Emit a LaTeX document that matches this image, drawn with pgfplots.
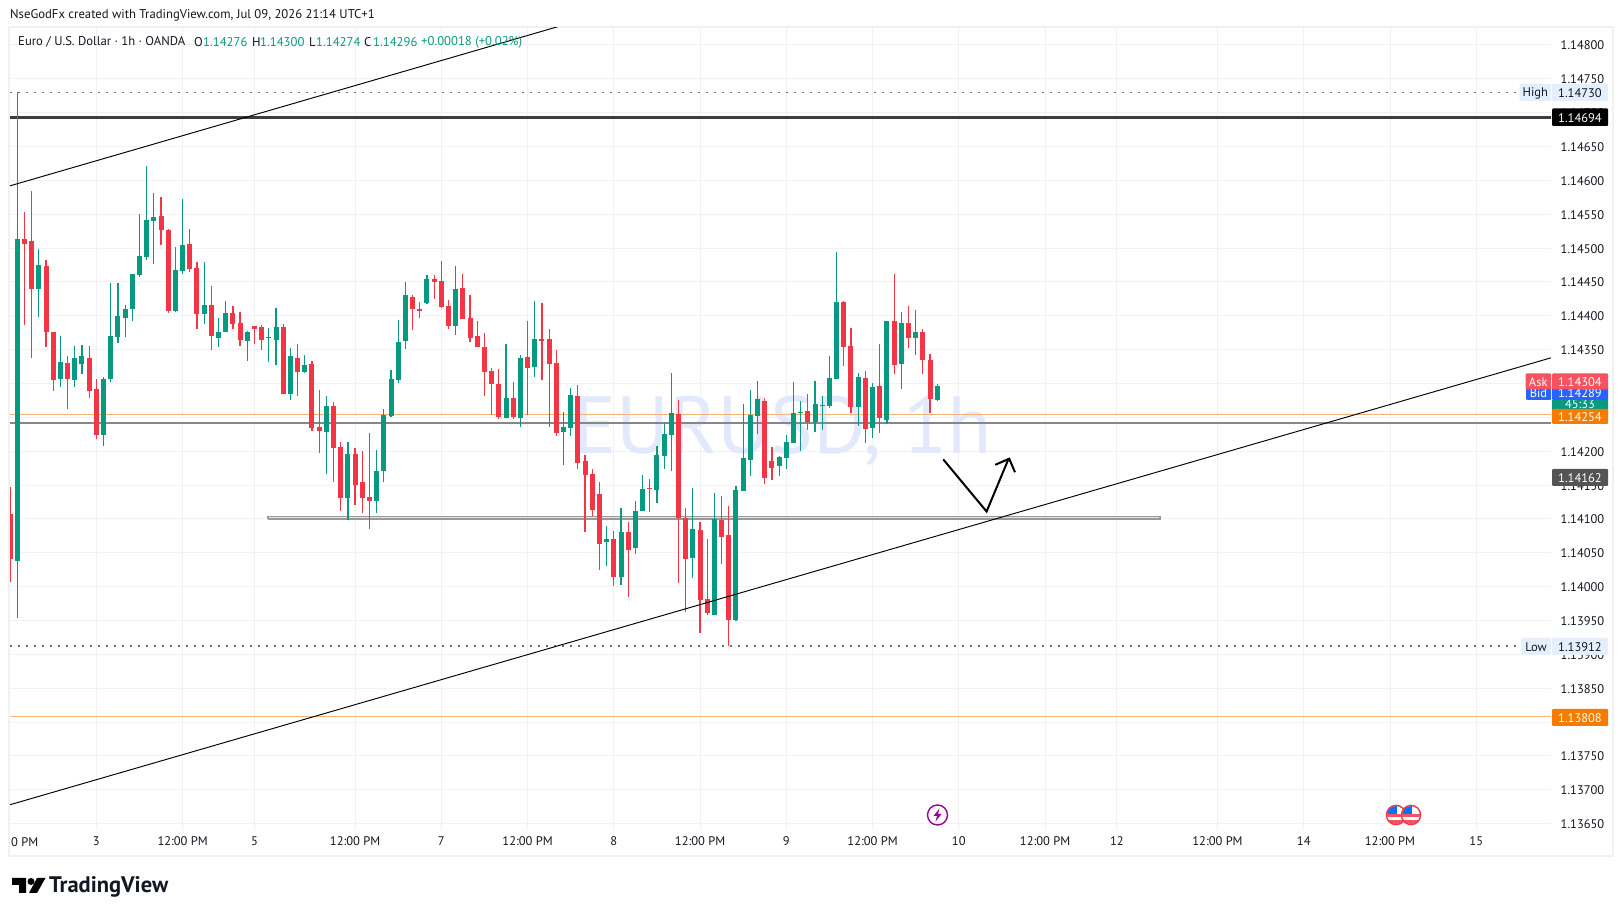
\documentclass[border=0pt]{standalone}
\usepackage{pgfplots}
\usepackage{pgfplotstable}
\usepackage{fontspec}
\pgfplotsset{compat=1.18}
\setmainfont{PT Sans}
\definecolor{up}{HTML}{089981}
\definecolor{down}{HTML}{F23645}
\definecolor{gridc}{HTML}{F1F2F4}
\definecolor{framec}{HTML}{F0F1F3}
\definecolor{txt}{HTML}{131722}
\definecolor{hl}{HTML}{E3EFFD}
\definecolor{orangeb}{HTML}{F57C00}
\definecolor{orangel}{HTML}{F4B478}
\definecolor{askc}{HTML}{F7525F}
\definecolor{bidc}{HTML}{2962FF}
\definecolor{wm}{HTML}{E3E9FC}
\pgfplotstableread{
x low bot top high
0 1.13954 1.14038 1.14514 1.14730
3 1.14398 1.14439 1.14475 1.14499
6 1.14295 1.14307 1.14332 1.14370
8 1.14295 1.14305 1.14338 1.14355
9 1.14314 1.14329 1.14341 1.14357
12 1.14208 1.14224 1.14307 1.14310
13 1.14302 1.14307 1.14370 1.14449
14 1.14360 1.14369 1.14400 1.14449
15 1.14369 1.14397 1.14410 1.14416
16 1.14392 1.14410 1.14462 1.14462
17 1.14457 1.14460 1.14488 1.14550
18 1.14482 1.14487 1.14542 1.14621
19 1.14477 1.14540 1.14546 1.14581
22 1.14406 1.14407 1.14468 1.14502
23 1.14462 1.14466 1.14505 1.14573
26 1.14388 1.14403 1.14416 1.14480
28 1.14354 1.14367 1.14376 1.14397
29 1.14376 1.14376 1.14404 1.14422
32 1.14333 1.14363 1.14376 1.14378
35 1.14332 1.14367 1.14369 1.14382
36 1.14327 1.14364 1.14384 1.14412
38 1.14276 1.14285 1.14341 1.14353
40 1.14316 1.14317 1.14327 1.14342
43 1.14166 1.14228 1.14267 1.14282
46 1.14099 1.14131 1.14196 1.14214
50 1.14109 1.14127 1.14171 1.14202
51 1.14155 1.14171 1.14254 1.14262
52 1.14251 1.14252 1.14307 1.14320
53 1.14301 1.14305 1.14361 1.14394
54 1.14351 1.14363 1.14431 1.14450
57 1.14418 1.14419 1.14454 1.14460
61 1.14372 1.14385 1.14440 1.14474
68 1.14249 1.14249 1.14279 1.14358
70 1.14236 1.14249 1.14338 1.14342
72 1.14310 1.14324 1.14366 1.14422
76 1.14180 1.14228 1.14236 1.14258
77 1.14223 1.14234 1.14283 1.14293
82 1.14031 1.14066 1.14070 1.14090
84 1.14003 1.14014 1.14081 1.14116
86 1.14048 1.14057 1.14112 1.14127
87 1.14112 1.14112 1.14144 1.14165
89 1.14124 1.14143 1.14195 1.14208
90 1.14174 1.14193 1.14226 1.14242
91 1.14171 1.14224 1.14257 1.14316
94 1.14013 1.14042 1.14085 1.14146
97 1.13958 1.13958 1.14100 1.14138
100 1.13949 1.13951 1.14143 1.14149
101 1.14141 1.14141 1.14190 1.14270
102 1.14164 1.14187 1.14254 1.14291
103 1.14226 1.14252 1.14277 1.14304
106 1.14164 1.14178 1.14192 1.14193
107 1.14174 1.14190 1.14214 1.14224
108 1.14212 1.14212 1.14257 1.14302
109 1.14200 1.14257 1.14258 1.14274
111 1.14228 1.14243 1.14270 1.14304
112 1.14231 1.14267 1.14268 1.14282
113 1.14264 1.14267 1.14308 1.14341
114 1.14307 1.14307 1.14420 1.14494
117 1.14237 1.14265 1.14310 1.14316
119 1.14220 1.14234 1.14295 1.14301
121 1.14240 1.14246 1.14392 1.14392
123 1.14292 1.14329 1.14389 1.14406
125 1.14342 1.14367 1.14376 1.14409
128 1.14274 1.14276 1.14296 1.14300
}\upcandles
\pgfplotstableread{
x low bot top high
-1 1.14007 1.14041 1.14107 1.14147
1 1.14386 1.14506 1.14513 1.14553
2 1.14338 1.14439 1.14511 1.14584
4 1.14354 1.14376 1.14474 1.14482
5 1.14289 1.14305 1.14376 1.14376
7 1.14262 1.14307 1.14330 1.14341
10 1.14279 1.14289 1.14338 1.14355
11 1.14218 1.14224 1.14292 1.14307
20 1.14505 1.14527 1.14547 1.14576
21 1.14404 1.14407 1.14527 1.14528
24 1.14465 1.14469 1.14506 1.14528
25 1.14381 1.14403 1.14471 1.14480
27 1.14350 1.14370 1.14416 1.14444
30 1.14381 1.14388 1.14404 1.14415
31 1.14355 1.14364 1.14389 1.14406
33 1.14358 1.14381 1.14385 1.14385
34 1.14350 1.14364 1.14384 1.14386
37 1.14285 1.14285 1.14384 1.14388
39 1.14282 1.14317 1.14338 1.14358
41 1.14230 1.14234 1.14329 1.14333
42 1.14197 1.14230 1.14236 1.14290
44 1.14155 1.14205 1.14267 1.14273
45 1.14112 1.14131 1.14206 1.14214
47 1.14121 1.14150 1.14196 1.14205
48 1.14109 1.14131 1.14155 1.14200
49 1.14085 1.14127 1.14132 1.14227
55 1.14379 1.14410 1.14428 1.14431
56 1.14397 1.14407 1.14410 1.14420
58 1.14425 1.14450 1.14454 1.14460
59 1.14412 1.14413 1.14451 1.14481
60 1.14381 1.14385 1.14415 1.14423
62 1.14395 1.14395 1.14441 1.14462
63 1.14361 1.14367 1.14397 1.14431
64 1.14354 1.14354 1.14370 1.14392
65 1.14282 1.14317 1.14354 1.14375
66 1.14254 1.14299 1.14319 1.14323
67 1.14248 1.14251 1.14299 1.14322
69 1.14248 1.14251 1.14279 1.14302
71 1.14254 1.14323 1.14339 1.14392
73 1.14305 1.14363 1.14366 1.14419
74 1.14236 1.14329 1.14366 1.14381
75 1.14223 1.14227 1.14330 1.14350
78 1.14174 1.14183 1.14282 1.14298
79 1.14081 1.14165 1.14186 1.14195
80 1.14104 1.14113 1.14166 1.14174
81 1.14025 1.14063 1.14137 1.14155
83 1.14001 1.14014 1.14070 1.14082
85 1.13985 1.14054 1.14081 1.14096
88 1.14110 1.14144 1.14146 1.14159
92 1.14005 1.14101 1.14255 1.14276
93 1.13963 1.14041 1.14101 1.14116
95 1.13932 1.13980 1.14084 1.14096
96 1.13958 1.13961 1.13982 1.14070
98 1.14034 1.14073 1.14099 1.14134
99 1.13912 1.13951 1.14076 1.14119
104 1.14152 1.14161 1.14274 1.14279
105 1.14158 1.14175 1.14186 1.14206
110 1.14231 1.14243 1.14260 1.14285
115 1.14326 1.14354 1.14420 1.14422
116 1.14257 1.14265 1.14355 1.14382
118 1.14212 1.14233 1.14308 1.14319
120 1.14227 1.14249 1.14296 1.14358
122 1.14314 1.14327 1.14392 1.14462
124 1.14353 1.14367 1.14389 1.14415
126 1.14314 1.14335 1.14376 1.14381
127 1.14257 1.14277 1.14335 1.14344
}\downcandles
\pgfplotsset{
 candle/.style n args={3}{draw=none,mark=none,forget plot,
  error bars/.cd,y dir=plus,y explicit,error mark=none,
  error bar style={draw=#1,line width=#2}},
}
\newcommand{\candles}[2]{%
 \addplot[candle={#2}{1.2pt}{}] table[x=x,y=low,y error plus expr=\thisrow{high}-\thisrow{low}]{#1};
 \addplot[candle={#2}{5pt}{}] table[x=x,y=bot,y error plus expr=\thisrow{top}-\thisrow{bot}]{#1};
}
\newcommand{\pricebox}[6]{% x0 x1 ytop ybot fill text
 \fill[#5,rounded corners=1pt] (#1,#3) rectangle (#2,#4);
 \node[anchor=center,inner sep=0,text=white,font=\fontsize{12.5}{14}\selectfont] at ({(#1+#2)/2},{(#3+#4)/2+0.5}) {#6};
}
\newcommand{\lightbox}[5]{%
 \fill[hl,rounded corners=1pt] (#1,#3) rectangle (#2,#4);
 \node[anchor=center,inner sep=0,text=txt,font=\fontsize{12.5}{14}\selectfont] at ({(#1+#2)/2},{(#3+#4)/2+0.5}) {#5};
}
\begin{document}
\begin{tikzpicture}[x=1pt,y=1pt]
\useasboundingbox (0,0) rectangle (1623,916);
\fill[white] (0,0) rectangle (1623,916);
\draw[framec,line width=2pt] (9,916-27) rectangle (1613,916-856);
\begin{axis}[
 at={(10pt,86pt)},anchor=south west,scale only axis,
 width=1541pt,height=802pt,
 xmin=-1.016,xmax=213.4,ymin=1.136407,ymax=1.148251,
 clip mode=individual,
 axis line style={draw=none},
 major tick length=0pt,
 grid=major,grid style={draw=gridc,line width=1pt},
 xtick={11,23,33,47,59,71,83,95,107,119,131,143,153,167,179,191,203},
 xticklabels={3,12:00 PM,5,12:00 PM,7,12:00 PM,8,12:00 PM,9,12:00 PM,10,12:00 PM,12,12:00 PM,14,12:00 PM,15},
 ytick={1.1365,1.137,1.1375,1.138,1.1385,1.139,1.1395,1.14,1.1405,1.141,1.1415,1.142,1.1425,1.143,1.1435,1.144,1.1445,1.145,1.1455,1.146,1.1465,1.147,1.1475,1.148},
 yticklabel pos=right,
 yticklabel style={/pgf/number format/.cd,fixed,fixed zerofill,precision=5,1000 sep={},assume math mode=true,/tikz/.cd,anchor=west,inner sep=0pt,xshift=9.5pt,yshift=-0.6pt,text=txt,font=\fontsize{12.5}{14}\selectfont},
 xticklabel style={anchor=center,inner sep=0pt,yshift=-11.5pt,text=txt,font=\fontsize{12.5}{14}\selectfont},
]
\node[anchor=base west,inner sep=0,text=wm,font=\fontsize{81}{90}\selectfont] at (axis cs:77.3,1.14197) {EURUSD, 1h};
% horizontal levels
\addplot[draw=orangel,line width=0.8pt,forget plot] coordinates {(-1.016,1.14254)(213.4,1.14254)};
\addplot[draw=orangel,line width=0.8pt,forget plot] coordinates {(-1.016,1.13808)(213.4,1.13808)};
\addplot[draw=black!47,line width=2pt,forget plot] coordinates {(-1.016,1.14242)(213.4,1.14242)};
\addplot[draw=black!76,line width=3pt,forget plot] coordinates {(-1.016,1.14693)(213.4,1.14693)};
\addplot[draw=black!58,line width=1.6pt,dash pattern=on 1.6pt off 6.4pt,forget plot] coordinates {(-1.016,1.14730)(213.4,1.14730)};
\addplot[draw=black!58,line width=1.6pt,dash pattern=on 1.6pt off 6.4pt,forget plot] coordinates {(-1.016,1.13912)(213.4,1.13912)};
\addplot[draw=black!40,line width=1.3pt,fill=black!10,forget plot] coordinates {(34.9,1.14100)(159,1.14100)(159,1.14104)(34.9,1.14104)(34.9,1.14100)};
\candles{\downcandles}{down}
\candles{\upcandles}{up}
% trend lines
\addplot[draw=black,line width=0.95pt,forget plot] coordinates {(-1.016,1.14592)(75.2,1.14827)};
\addplot[draw=black,line width=0.95pt,forget plot] coordinates {(-1.016,1.13678)(213.4,1.14338)};
% drawn arrow
\addplot[draw=black,line width=2pt,forget plot] coordinates {(128.84,1.14188)(134.87,1.14111)(137.93,1.14189)};
\addplot[draw=black,line width=2pt,forget plot] coordinates {(136.07,1.14180)(138.02,1.14189)(138.82,1.14169)};
\end{axis}
\begin{scope}[shift={(0,916)},y=-1pt]
% header
\node[anchor=west,inner sep=0,text=txt,font=\fontsize{12.7}{15}\selectfont] at (10,15) {NseGodFx created with TradingView.com, Jul 09, 2026 21:14 UTC+1};
\node[anchor=west,inner sep=0,text=txt,font=\fontsize{12.7}{15}\selectfont] at (18,42) {Euro / U.S. Dollar · 1h · OANDA};
\foreach \xx/\t in {194/O,252/H,309/L,364/C}{\node[anchor=west,inner sep=0,text=txt,font=\fontsize{12.7}{15}\selectfont] at (\xx,42) {\t};}
\foreach \xx/\t in {203/1.14276,260/1.14300,316/1.14274,373/1.14296,421/{+0.00018 (+0.02\%)}}{\node[anchor=west,inner sep=0,text=up,font=\fontsize{12.7}{15}\selectfont] at (\xx,42) {\t};}
% partly hidden time label
\node[anchor=west,inner sep=0,text=txt,font=\fontsize{12.5}{14}\selectfont] at (11,842) {0 PM};
% price boxes
\lightbox{1519.5}{1551}{84}{101}{High}
\lightbox{1552}{1608}{84}{101}{1.14730}
\pricebox{1552}{1608}{108.5}{126}{black}{1.14694}
\pricebox{1552}{1608}{399}{412}{up}{\raisebox{3pt}{45:33}}
\pricebox{1526}{1551}{385}{400}{bidc}{Bid}
\pricebox{1552}{1608}{385}{400}{bidc}{1.14289}
\pricebox{1552}{1608}{409}{424}{orangeb}{1.14254}
\pricebox{1525.5}{1551}{373.5}{389.5}{askc}{Ask}
\pricebox{1552}{1608}{373.5}{389.5}{askc}{1.14304}
\pricebox{1552}{1608}{469}{486}{black!67}{1.14162}
\lightbox{1521}{1551}{638}{655}{Low}
\lightbox{1552}{1608}{638}{655}{1.13912}
\fill[white] (1552,722) rectangle (1608,730);
\pricebox{1552}{1608}{709}{726}{orangeb}{1.13808}
% event icons
\draw[violet!80!magenta,line width=1.4pt] (937.5,815) circle (10);
\fill[violet!80!magenta] (939.5,808.5)--(933.5,816)--(937,816)--(935.5,821.5)--(941.5,814)--(938,814)--cycle;
\foreach \cx in {1396,1411}{
 \begin{scope}
 \clip (\cx,815) circle (9);
 \fill[white] (\cx-10,805) rectangle (\cx+10,825);
 \fill[down!85] (\cx-10,814.5) rectangle (\cx+10,817.5);
 \fill[down!85] (\cx-10,820) rectangle (\cx+10,825);
 \fill[blue!55!cyan] (\cx-10,805) rectangle (\cx+1,814.5);
 \end{scope}
 \draw[down,line width=1.4pt,fill=none] (\cx,815) circle (9.6);
}
% logo
\fill[black] (12,878)--(26,878)--(26,893)--(19,893)--(19,885)--(12,885)--cycle;
\fill[black] (31,881.5) circle (3.5);
\fill[black] (37,878)--(45.5,878)--(37,893)--(29,893)--cycle;
\node[anchor=west,inner sep=0,text=txt,font=\fontsize{22.5}{25}\selectfont\bfseries] at (49,887) {TradingView};
\end{scope}
\end{tikzpicture}
\end{document}
